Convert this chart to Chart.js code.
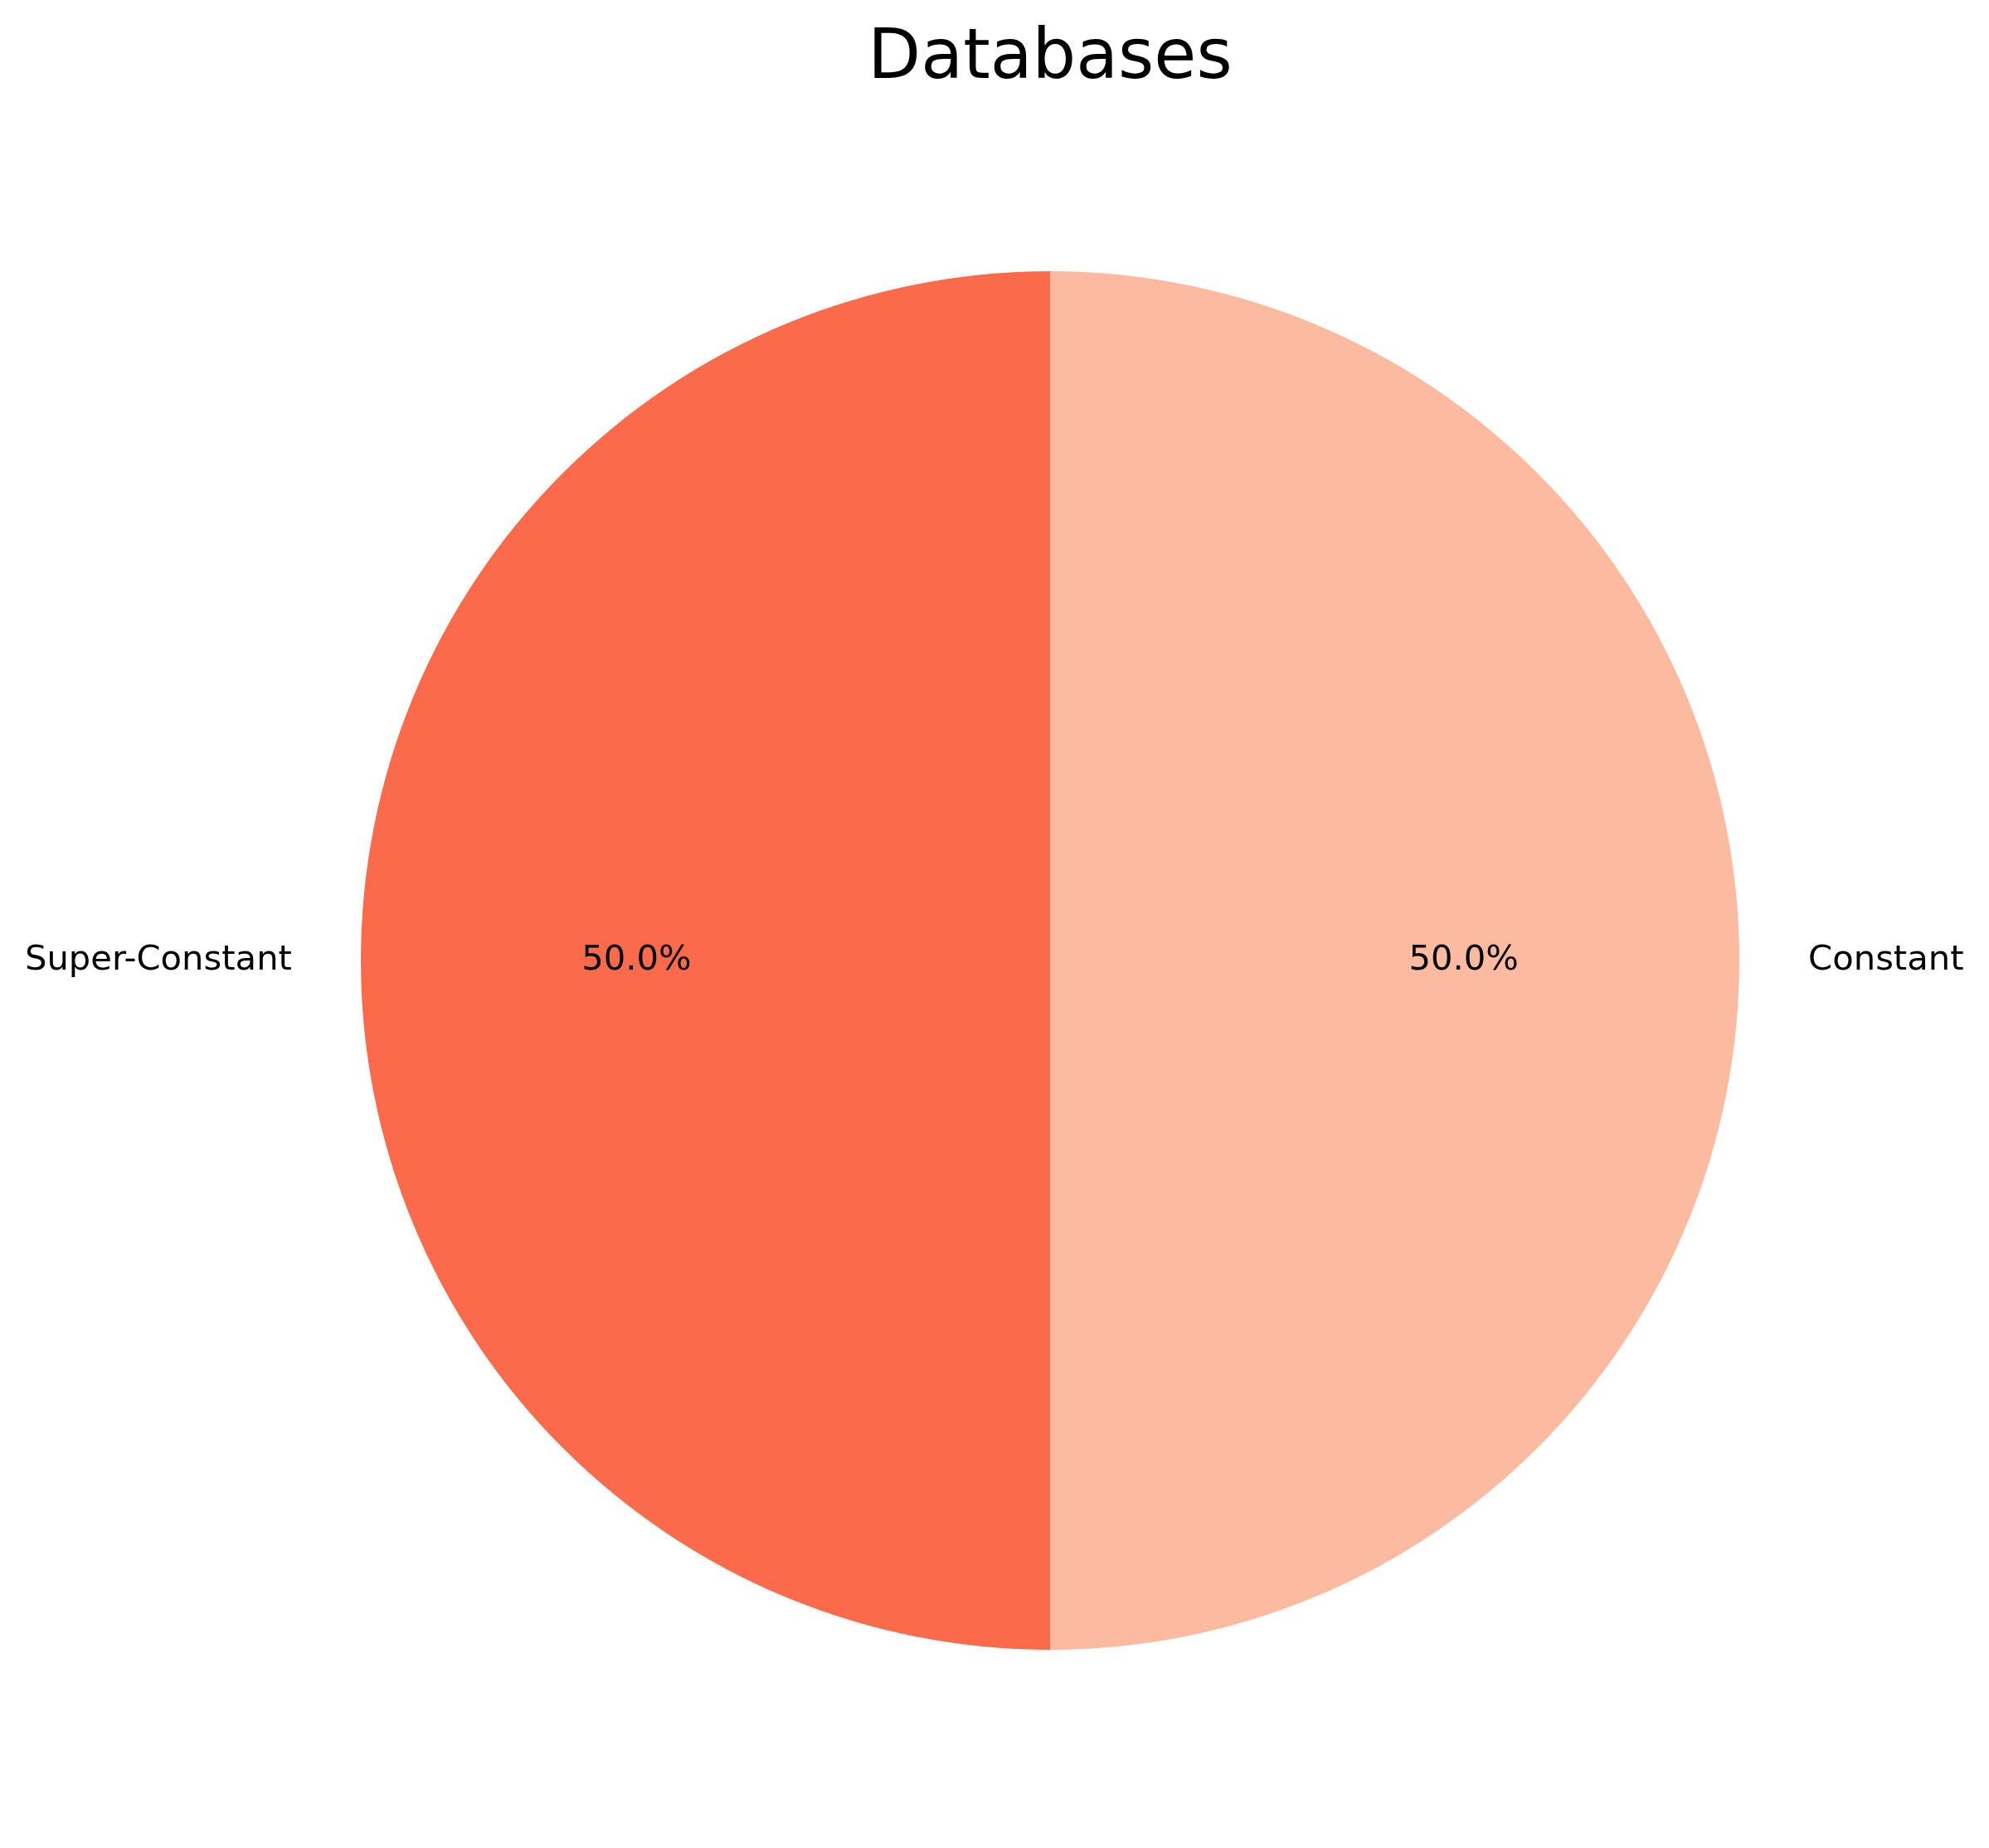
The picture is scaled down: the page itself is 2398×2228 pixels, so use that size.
<!DOCTYPE html>
<html>
<head>
<meta charset="utf-8">
<script src="https://cdn.jsdelivr.net/npm/chart.js@4/dist/chart.umd.min.js"></script>
<style>
html,body{margin:0;padding:0;background:#fff;}
#wrap{width:2398px;height:2228px;position:relative;}
</style>
</head>
<body>
<div id="wrap"><canvas id="c" width="2398" height="2228"></canvas></div>
<script>
const titleText = 'Databases';
const categories = ['Super-Constant', 'Constant'];
const values = [1, 1];
const colors = ['#fb6a4a', '#fcbba1'];

const FONT = "'DejaVu Sans', sans-serif";

const labelPlugin = {
  id: 'mplLabels',
  afterDatasetsDraw(chart) {
    const ctx = chart.ctx;
    const meta = chart.getDatasetMeta(0);
    const total = values.reduce((a, b) => a + b, 0);
    ctx.save();
    ctx.fillStyle = '#000';
    // title
    const cx0 = meta.data[0].x;
    ctx.font = '83px ' + FONT;
    ctx.textAlign = 'center';
    ctx.textBaseline = 'alphabetic';
    ctx.fillText(titleText, cx0, 94);
    meta.data.forEach((arc, i) => {
      const mid = (arc.startAngle + arc.endAngle) / 2;
      const r = arc.outerRadius;
      const cosA = Math.cos(mid), sinA = Math.sin(mid);
      ctx.font = '41.7px ' + FONT;
      ctx.textBaseline = 'middle';
      // category label at 1.1 r
      const lx = arc.x + 1.1 * r * cosA;
      const ly = arc.y + 1.1 * r * sinA;
      ctx.textAlign = lx < arc.x - 0.5 ? 'right' : 'left';
      ctx.fillText(categories[i], lx, ly);
      // percentage at 0.6 r
      const px = arc.x + 0.6 * r * cosA;
      const py = arc.y + 0.6 * r * sinA;
      ctx.textAlign = 'center';
      ctx.fillText((values[i] / total * 100).toFixed(1) + '%', px, py);
    });
    ctx.restore();
  }
};

new Chart(document.getElementById('c'), {
  type: 'pie',
  data: {
    labels: categories,
    datasets: [{
      data: values,
      backgroundColor: colors,
      borderWidth: 0,
      hoverOffset: 0
    }]
  },
  options: {
    responsive: false,
    animation: false,
    rotation: 180,
    layout: { padding: { left: 435, right: 301, top: 327, bottom: 239 } },
    plugins: {
      legend: { display: false },
      tooltip: { enabled: false },
      title: { display: false }
    },
    events: []
  },
  plugins: [labelPlugin]
});
</script>
</body>
</html>
